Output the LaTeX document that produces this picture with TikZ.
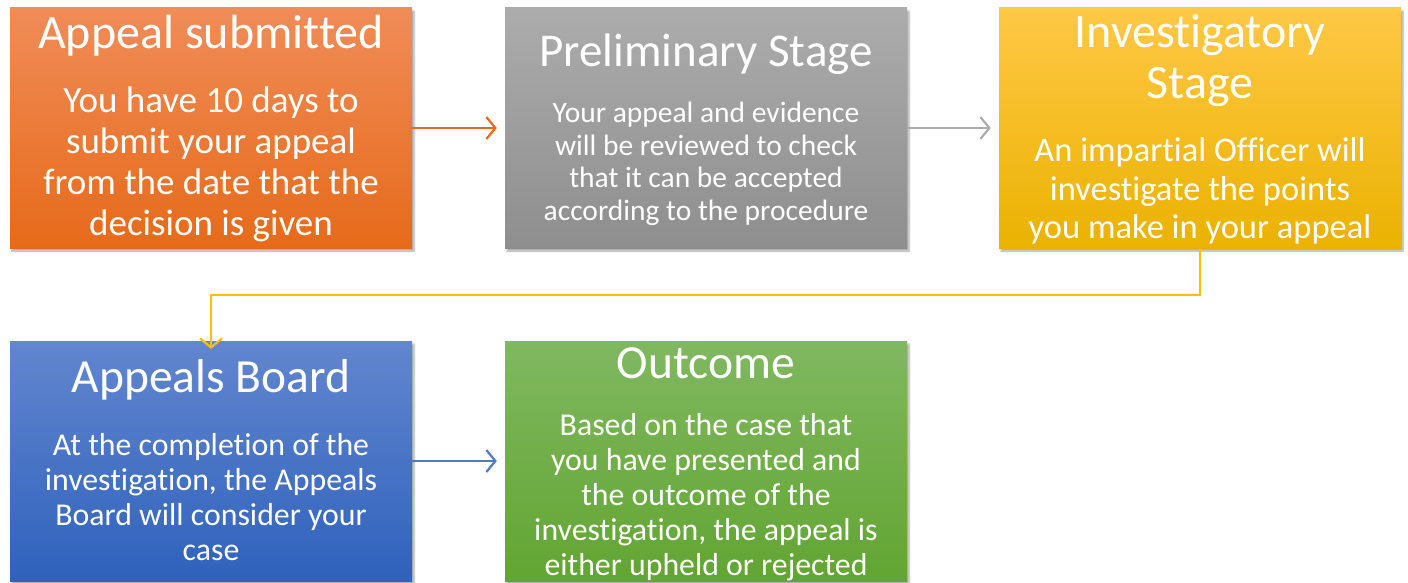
\documentclass[tikz,border=0pt]{standalone}
\usepackage{fontspec}
\setmainfont{Carlito}[Ligatures=NoCommon]
\usetikzlibrary{arrows.meta,shadows.blur}
\definecolor{orangetop}{RGB}{240,140,88}
\definecolor{orangebot}{RGB}{230,106,26}
\definecolor{greytop}{RGB}{172,172,172}
\definecolor{greybot}{RGB}{142,142,142}
\definecolor{goldtop}{RGB}{255,200,70}
\definecolor{goldbot}{RGB}{234,178,0}
\definecolor{goldline}{RGB}{255,192,0}
\definecolor{bluetop}{RGB}{98,134,207}
\definecolor{bluebot}{RGB}{47,98,188}
\definecolor{greentop}{RGB}{128,184,96}
\definecolor{greenbot}{RGB}{98,165,50}
\tikzset{
  stagebox/.style={rectangle, minimum width=402pt, minimum height=240pt, inner sep=0pt,
    blur shadow={shadow xshift=2pt, shadow yshift=-3pt, shadow blur steps=6, shadow opacity=35}},
  txt/.style={text=white, align=center, inner sep=0pt},
  link/.style={line width=2.2pt, -{Straight Barb[length=9pt, width=22pt, line width=2.2pt]}}
}
\begin{document}
\begin{tikzpicture}[x=1pt, y=-1pt]
\useasboundingbox (0,0) rectangle (1408,583);
\node[stagebox, top color=orangetop, bottom color=orangebot] (submitted) at (211,128) {};
\node[stagebox, top color=greytop, bottom color=greybot] (prelim) at (706,128) {};
\node[stagebox, top color=goldtop, bottom color=goldbot] (invest) at (1200,128) {};
\node[stagebox, top color=bluetop, bottom color=bluebot] (board) at (211,461) {};
\node[stagebox, top color=greentop, bottom color=greenbot] (outcome) at (706,461) {};

\node[txt, font=\fontsize{48}{50}\selectfont] (submittedT) at (211,36) {Appeal submitted};
\node[txt, font=\fontsize{37}{41}\selectfont] (submittedB) at (211,164) {You have 10 days to\\submit your appeal\\from the date that the\\decision is given};
\node[txt, font=\fontsize{47}{50}\selectfont] (prelimT) at (706,54) {Preliminary Stage};
\node[txt, font=\fontsize{29.5}{32.5}\selectfont] (prelimB) at (706,164) {Your appeal and evidence\\will be reviewed to check\\that it can be accepted\\according to the procedure};
\node[txt, font=\fontsize{48}{51}\selectfont] (investT) at (1200,61) {Investigatory\\Stage};
\node[txt, font=\fontsize{34.5}{38.5}\selectfont] (investB) at (1200,191) {An impartial Officer will\\investigate the points\\you make in your appeal};
\node[txt, font=\fontsize{47.5}{50}\selectfont] (boardT) at (211,380) {Appeals Board};
\node[txt, font=\fontsize{31.8}{35}\selectfont] (boardB) at (211,497) {At the completion of the\\investigation, the Appeals\\Board will consider your\\case};
\node[txt, font=\fontsize{47.5}{50}\selectfont] (outcomeT) at (706,363) {Outcome};
\node[txt, font=\fontsize{31.8}{35}\selectfont] (outcomeB) at (706,497) {Based on the case that\\you have presented and\\the outcome of the\\investigation, the appeal is\\either upheld or rejected};

\coordinate (bend) at (0,295);
\draw[link, draw=orangebot] (submitted.east) -- ([xshift=-8pt]prelim.west);
\draw[link, draw=greytop] (prelim.east) -- ([xshift=-8pt]invest.west);
\draw[link, draw=goldline] (invest.south) -- (invest.south |- bend) -- (board.north |- bend) -- ([yshift=-8pt]board.north);
\draw[link, draw=bluebot!85!white] (board.east) -- ([xshift=-8pt]outcome.west);
\end{tikzpicture}
\end{document}
